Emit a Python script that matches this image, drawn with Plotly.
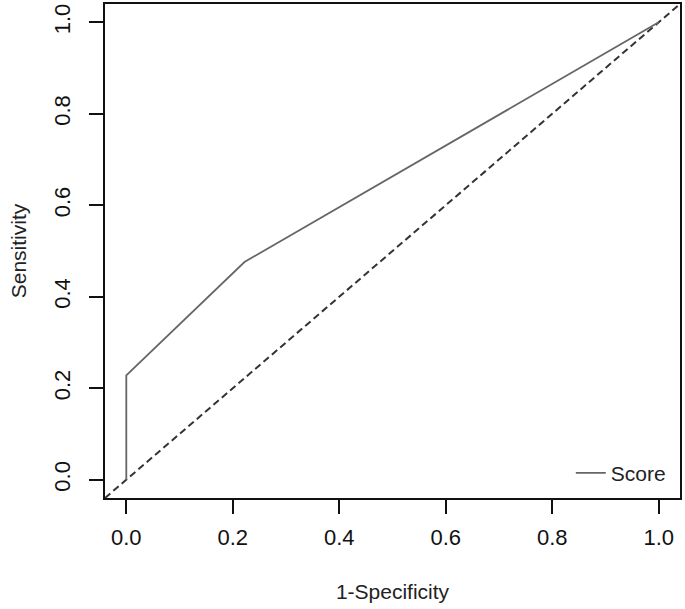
import plotly.graph_objects as go

# ROC curve data
fpr = [0.0, 0.0, 0.222, 1.0]          # 1-Specificity
tpr = [0.0, 0.228, 0.476, 1.0]        # Sensitivity
ref_x = [-0.04, 1.04]                 # diagonal reference line (abline 0,1)
ref_y = [-0.04, 1.04]
tick_vals = [0.0, 0.2, 0.4, 0.6, 0.8, 1.0]
tick_text = ["0.0", "0.2", "0.4", "0.6", "0.8", "1.0"]
series_name = "Score"

FONT = "Liberation Sans, Arial, Helvetica, sans-serif"

fig = go.Figure()
fig.add_trace(go.Scatter(
    x=ref_x, y=ref_y, mode="lines",
    line=dict(color="#333333", width=2, dash="7px,4px"),
    showlegend=False, hoverinfo="skip",
))
fig.add_trace(go.Scatter(
    x=fpr, y=tpr, mode="lines", name=series_name,
    line=dict(color="#666666", width=1.8),
))

axis_common = dict(
    range=[-0.04, 1.04],
    tickvals=tick_vals, ticktext=tick_text,
    showgrid=False, zeroline=False,
    showline=True, linecolor="#111111", linewidth=1.6, mirror=True,
    ticks="outside", ticklen=14, tickwidth=1.6, tickcolor="#111111",
    tickfont=dict(family=FONT, size=22, color="#111111"),
    title_font=dict(family=FONT, size=21, color="#222222"),
    automargin=False,
)

fig.update_layout(
    width=685, height=609,
    margin=dict(l=105, r=5, t=4, b=111),
    paper_bgcolor="white", plot_bgcolor="white",
    xaxis=dict(axis_common, ticklabelstandoff=5,
               title=dict(text="1-Specificity", standoff=35)),
    yaxis=dict(axis_common, tickangle=-90, ticklabelstandoff=10,
               title=dict(text="Sensitivity", standoff=18)),
    legend=dict(
        x=0.984, y=0.05, xanchor="right", yanchor="middle",
        bgcolor="rgba(0,0,0,0)", borderwidth=0,
        font=dict(family=FONT, size=21, color="#222222"),
    ),
    showlegend=True,
)

fig.write_html("out.html", config={"displayModeBar": False},
               post_script="document.body.style.margin='0';")
